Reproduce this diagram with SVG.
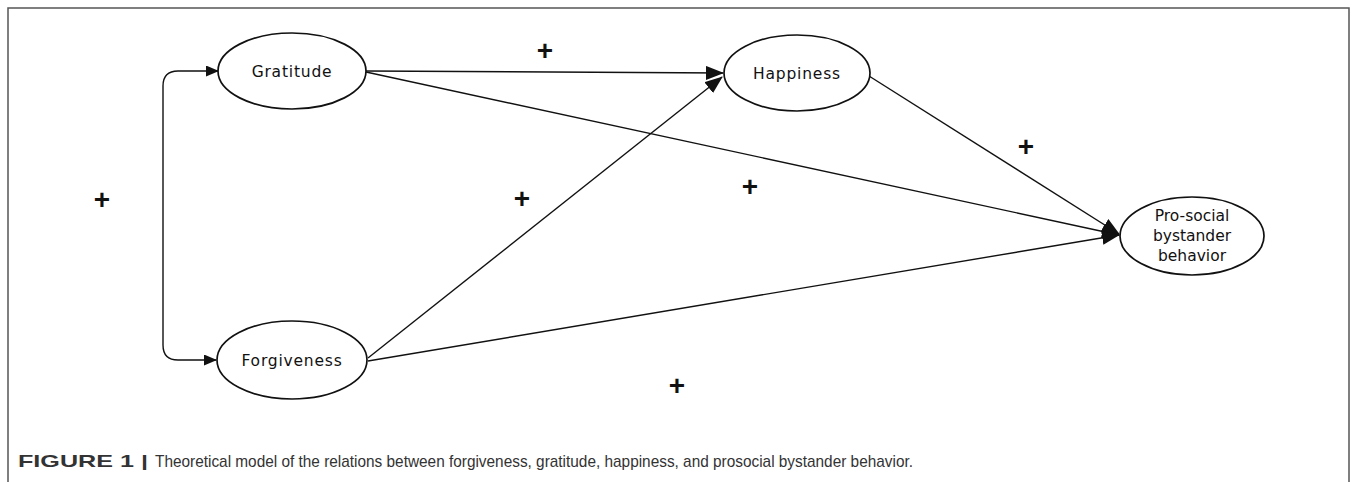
<svg xmlns="http://www.w3.org/2000/svg" width="1358" height="482" viewBox="0 0 1358 482">
<style>
.node ellipse{fill:#fff;stroke:#111;stroke-width:1.7}
.lbl{font-family:"DejaVu Sans",Verdana,sans-serif;font-size:15.5px;fill:#111;text-anchor:middle}
.edge{fill:none;stroke:#111;stroke-width:1.4}
.plus{font-family:"Liberation Sans",Arial,sans-serif;font-size:28px;font-weight:bold;fill:#111;text-anchor:middle}
.cap{font-family:"Liberation Sans",Arial,sans-serif;font-size:17px;fill:#333}
</style>
<defs>
<marker id="big" markerUnits="userSpaceOnUse" markerWidth="18" markerHeight="14" viewBox="0 0 18 14" refX="17" refY="7" orient="auto">
<path d="M0,0 L18,7 L0,14 Z" fill="#111"/>
</marker>
<marker id="small" markerUnits="userSpaceOnUse" markerWidth="13" markerHeight="11" viewBox="0 0 13 11" refX="12" refY="5.5" orient="auto-start-reverse">
<path d="M0,0 L13,5.5 L0,11 Z" fill="#111"/>
</marker>
</defs>
<rect width="1358" height="482" fill="#fff"/>
<path d="M8,482 V8 H1349 V482" fill="none" stroke="#555" stroke-width="1.5"/>
<g id="connectors">
<path class="edge" d="M218,71 H178 Q163,71 163,86 V345 Q163,360 178,360 H216" marker-start="url(#small)" marker-end="url(#small)"/>
<path class="edge" d="M366,71 L723,73" marker-end="url(#big)"/>
<path class="edge" d="M366,72 L1119,235" marker-end="url(#big)"/>
<path class="edge" d="M368,358 L722,77" marker-end="url(#big)"/>
<path class="edge" d="M368,361 L1119,235" marker-end="url(#big)"/>
<path class="edge" d="M869,76 L1119,234" marker-end="url(#big)"/>
</g>
<g id="gratitude" class="node">
<ellipse cx="292" cy="71" rx="74" ry="38"/>
<text class="lbl" x="292" y="77" letter-spacing="0.8">Gratitude</text>
</g>
<g id="forgiveness" class="node">
<ellipse cx="292" cy="360" rx="75" ry="39"/>
<text class="lbl" x="292" y="366" letter-spacing="0.8">Forgiveness</text>
</g>
<g id="happiness" class="node">
<ellipse cx="797" cy="73" rx="73" ry="38"/>
<text class="lbl" x="797" y="79" letter-spacing="0.8">Happiness</text>
</g>
<g id="prosocial" class="node">
<ellipse cx="1192" cy="236" rx="72" ry="39"/>
<text class="lbl" x="1192" y="221">Pro-social</text>
<text class="lbl" x="1192" y="241">bystander</text>
<text class="lbl" x="1192" y="261">behavior</text>
</g>
<g id="signs">
<text class="plus" x="102" y="209">+</text>
<text class="plus" x="545" y="60">+</text>
<text class="plus" x="522" y="208">+</text>
<text class="plus" x="750" y="196">+</text>
<text class="plus" x="1026" y="156">+</text>
<text class="plus" x="677" y="395">+</text>
</g>
<g id="caption">
<text class="cap" x="18" y="467" font-weight="bold" fill="#222" textLength="130" lengthAdjust="spacingAndGlyphs">FIGURE 1 |</text>
<text class="cap" x="155" y="467" textLength="758" lengthAdjust="spacingAndGlyphs">Theoretical model of the relations between forgiveness, gratitude, happiness, and prosocial bystander behavior.</text>
</g>
</svg>
